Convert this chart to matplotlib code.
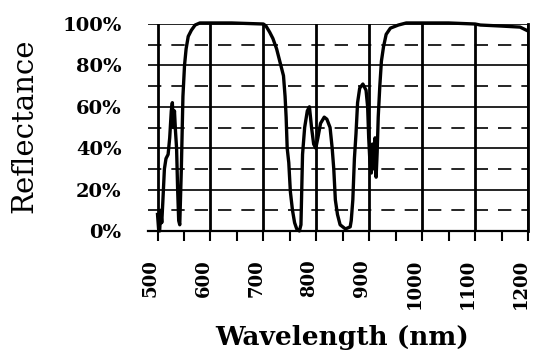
import matplotlib
matplotlib.use("Agg")
import matplotlib.pyplot as plt
from matplotlib.ticker import MultipleLocator, FixedLocator
from matplotlib.transforms import ScaledTranslation

# reflectance curve
wavelength = [500, 502, 504, 506, 508, 510, 513, 516, 520, 523, 526, 528, 530, 532, 534,
              536, 538, 540, 542, 545, 548, 551, 554, 558, 564, 571, 580, 640, 700,
              705, 712, 718, 725, 733, 738, 741, 743, 745, 748, 751, 755, 759, 763,
              768, 771, 774, 778, 783, 787, 791, 795, 799, 803, 808, 815, 820, 826,
              830, 833, 836, 840, 845, 855, 864, 866, 869, 872, 875, 878, 882, 888,
              894, 897, 899, 901, 904, 906, 909, 911, 913, 915, 917, 920, 923, 927,
              932, 940, 955, 970, 1050, 1100, 1110, 1150, 1185, 1197]
reflectance = [8, 1, 0, 10, 4, 14, 30, 35, 37, 45, 58, 62, 50, 58, 48,
               40, 20, 5, 3, 30, 65, 80, 88, 94, 97, 99.5, 100.5, 100.5, 100,
               99, 96, 93, 88, 80, 75, 65, 55, 40, 33, 19, 10, 4, 1,
               0, 3, 37, 50, 58, 60, 50, 42, 40, 45, 52, 55, 54, 50,
               40, 30, 15, 8, 3, 1, 2, 5, 15, 35, 47, 62, 69, 71,
               68, 60, 45, 35, 28, 42, 30, 45, 26, 38, 55, 70, 82, 89,
               95, 98, 99.5, 100.5, 100.5, 100, 99.5, 99, 98.5, 97]

x_ticks = [500, 600, 700, 800, 900, 1000, 1100, 1200]
y_ticks = [0, 20, 40, 60, 80, 100]
y_labels = ["0%", "20%", "40%", "60%", "80%", "100%"]

fig = plt.figure(figsize=(5.34, 3.56), dpi=100)
ax = fig.add_axes([148/534, 1 - 231/356, 380/534, 207/356])

ax.plot(wavelength, reflectance, color="black", lw=2.4, clip_on=False, zorder=3)

ax.set_xlim(482, 1200)
ax.set_ylim(0, 100)

ax.xaxis.set_major_locator(FixedLocator(x_ticks))
ax.xaxis.set_minor_locator(MultipleLocator(50))
ax.set_yticks(y_ticks)
ax.set_yticklabels(y_labels)
ax.yaxis.set_minor_locator(FixedLocator([10, 30, 50, 70, 90]))

ax.xaxis.grid(True, which="major", color="black", lw=2.0)
ax.yaxis.grid(True, which="major", color="black", lw=1.2)
ax.yaxis.grid(True, which="minor", color="black", lw=1.2, linestyle=(0, (8, 6)))

for side in ["left", "top"]:
    ax.spines[side].set_visible(False)
ax.spines["bottom"].set_linewidth(1.6)
ax.spines["right"].set_linewidth(2.0)

ax.tick_params(axis="x", which="both", direction="out", length=7, width=1.5,
               pad=13, labelrotation=90)
ax.tick_params(axis="y", which="both", length=0, pad=19)

shift = ScaledTranslation(-5/72, 0, fig.dpi_scale_trans)
for lab in ax.get_xticklabels():
    lab.set_family("DejaVu Serif")
    lab.set_fontweight("bold")
    lab.set_fontsize(13)
    lab.set_transform(lab.get_transform() + shift)
for lab in ax.get_yticklabels():
    lab.set_family("DejaVu Serif")
    lab.set_fontweight("bold")
    lab.set_fontsize(14)

fig.text(24/534, 1 - 126/356, "Reflectance", rotation=90, ha="center", va="center",
         family="DejaVu Serif", fontsize=21)
fig.text(342/534, 1 - 338/356, "Wavelength (nm)", ha="center", va="center",
         family="DejaVu Serif", fontweight="bold", fontsize=19)

fig.savefig("out.png", dpi=100)
